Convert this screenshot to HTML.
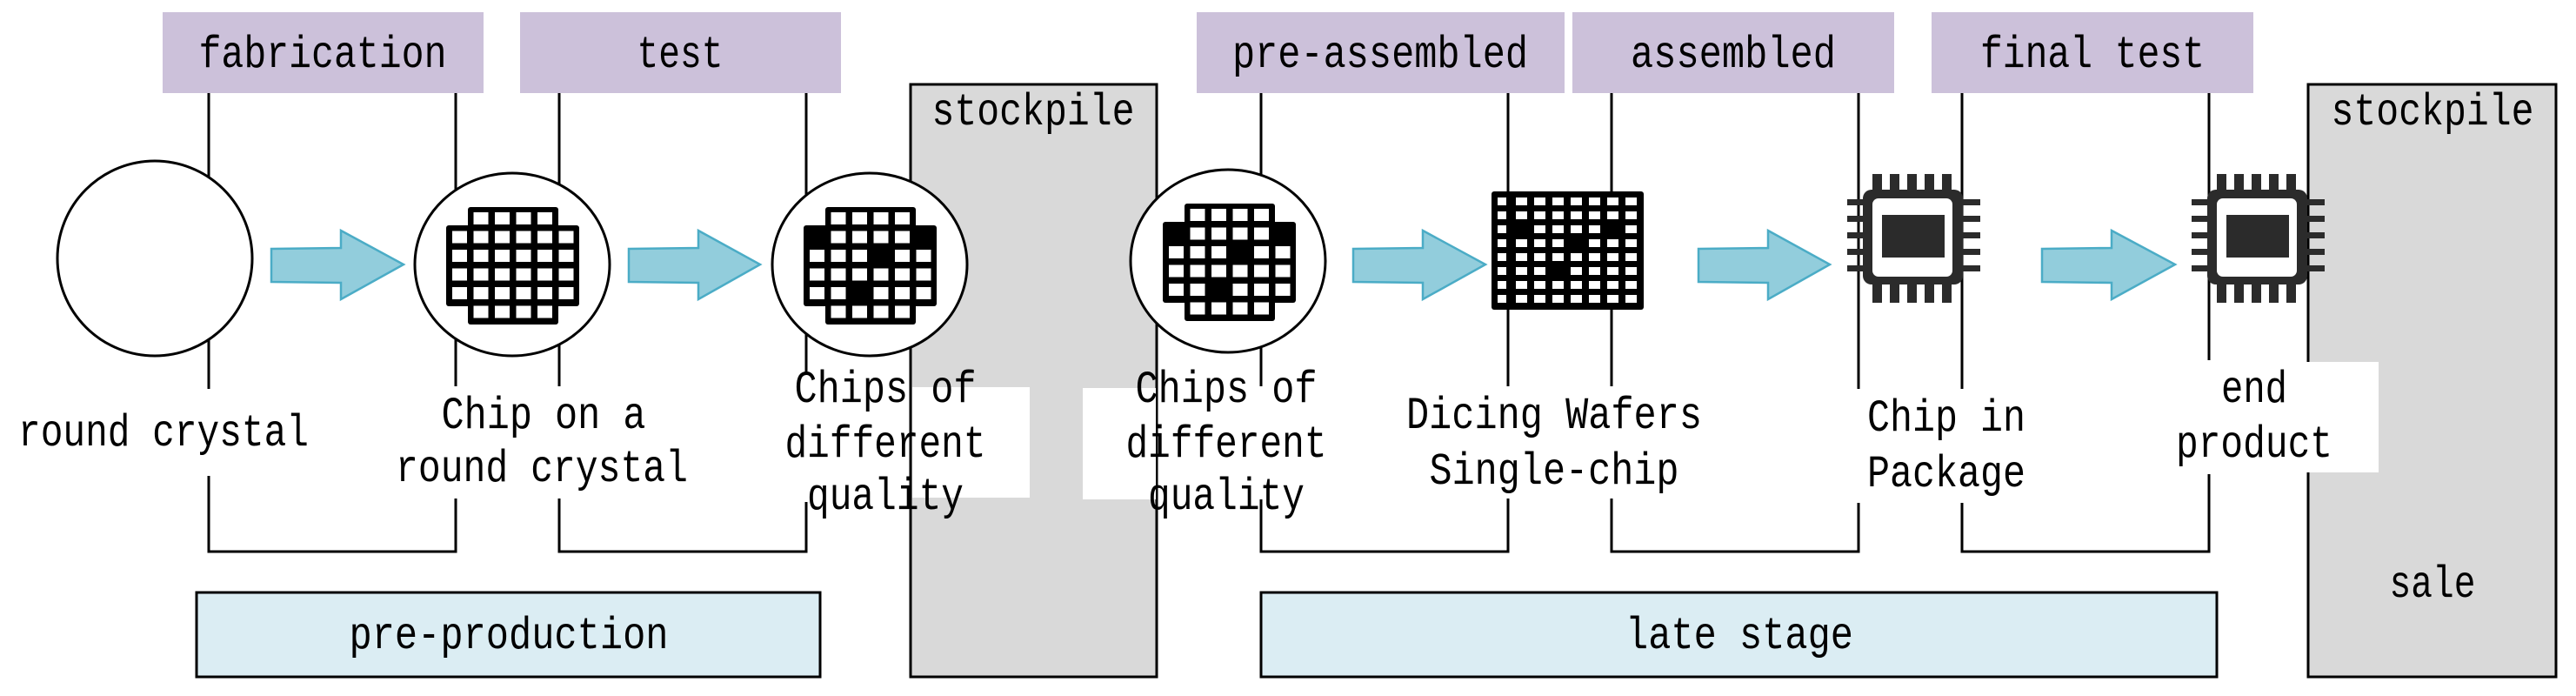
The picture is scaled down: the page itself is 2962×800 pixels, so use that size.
<!DOCTYPE html>
<html><head><meta charset="utf-8">
<style>
html,body{margin:0;padding:0;background:#fff;}
svg{display:block;}
text{font-family:"Liberation Mono","DejaVu Sans Mono",monospace;font-size:52px;fill:#000;}
</style></head>
<body>
<svg id="s" width="2962" height="800" viewBox="0 0 2962 800" xmlns="http://www.w3.org/2000/svg">
<g fill="#ccc1da">
<rect x="187" y="14" width="369" height="93"/>
<rect x="598" y="14" width="369" height="93"/>
<rect x="1376" y="14" width="423" height="93"/>
<rect x="1808" y="14" width="370" height="93"/>
<rect x="2221" y="14" width="370" height="93"/>
</g>
<rect x="1047" y="97" width="283" height="681" fill="#d9d9d9" stroke="#000" stroke-width="3"/>
<rect x="2654" y="97" width="285" height="681" fill="#d9d9d9" stroke="#000" stroke-width="3"/>
<rect x="226" y="681" width="717" height="97" fill="#dbedf3" stroke="#000" stroke-width="3"/>
<rect x="1450" y="681" width="1099" height="97" fill="#dbedf3" stroke="#000" stroke-width="3"/>
<g stroke="#000" stroke-width="3" fill="none">
<line x1="240" y1="107" x2="240" y2="447"/>
<polyline points="240,547 240,634 524,634 524,573"/>
<line x1="524" y1="107" x2="524" y2="444"/>
<line x1="643" y1="107" x2="643" y2="444"/>
<polyline points="643,573 643,634 927,634 927,577"/>
<line x1="927" y1="107" x2="927" y2="428"/>
<line x1="1450" y1="107" x2="1450" y2="444"/>
<polyline points="1450,574 1450,634 1734,634 1734,573"/>
<line x1="1734" y1="107" x2="1734" y2="444"/>
<line x1="1853" y1="107" x2="1853" y2="444"/>
<polyline points="1853,573 1853,634 2137,634 2137,578"/>
<line x1="2137" y1="107" x2="2137" y2="447"/>
<line x1="2256" y1="107" x2="2256" y2="447"/>
<polyline points="2256,578 2256,634 2540,634 2540,545"/>
<line x1="2540" y1="107" x2="2540" y2="414"/>
</g>
<rect x="1049" y="445" width="135" height="127" fill="#fff"/>
<rect x="1245" y="446" width="84" height="128" fill="#fff"/>
<rect x="2491" y="416" width="244" height="127" fill="#fff"/>
<g fill="#fff" stroke="#000" stroke-width="3">
<ellipse cx="178" cy="297" rx="112" ry="112"/>
<ellipse cx="589" cy="304" rx="112" ry="105"/>
<ellipse cx="1000" cy="304" rx="112" ry="105"/>
<ellipse cx="1412" cy="300" rx="112" ry="105"/>
</g>
<g id="icons"></g>
<g fill="#92cddc" stroke="#4bacc6" stroke-width="2.5">
<polygon points="312,286 392,285 392,265 464,304 392,344 392,325 312,324"/>
<polygon points="723,286 803,285 803,265 874,304 803,344 803,325 723,324"/>
<polygon points="1556,286 1636,285 1636,265 1708,304 1636,344 1636,325 1556,324"/>
<polygon points="1953,286 2033,285 2033,265 2104,304 2033,344 2033,325 1953,324"/>
<polygon points="2348,286 2428,285 2428,265 2501,304 2428,344 2428,325 2348,324"/>
</g>
<g text-anchor="middle" lengthAdjust="spacingAndGlyphs">
<text x="371" y="77" textLength="285" lengthAdjust="spacingAndGlyphs">fabrication</text>
<text x="782" y="77" textLength="99" lengthAdjust="spacingAndGlyphs">test</text>
<text x="1587" y="77" textLength="340" lengthAdjust="spacingAndGlyphs">pre-assembled</text>
<text x="1993" y="77" textLength="236" lengthAdjust="spacingAndGlyphs">assembled</text>
<text x="2406" y="77" textLength="258" lengthAdjust="spacingAndGlyphs">final test</text>
<text x="1188" y="143" textLength="233" lengthAdjust="spacingAndGlyphs">stockpile</text>
<text x="2797" y="143" textLength="233" lengthAdjust="spacingAndGlyphs">stockpile</text>
<text x="2797" y="686" textLength="99" lengthAdjust="spacingAndGlyphs">sale</text>
<text x="188" y="512" textLength="334" lengthAdjust="spacingAndGlyphs">round crystal</text>
<text x="625" y="492" textLength="235" lengthAdjust="spacingAndGlyphs">Chip on a</text>
<text x="623" y="553" textLength="336" lengthAdjust="spacingAndGlyphs">round crystal</text>
<text x="1018" y="462" textLength="209" lengthAdjust="spacingAndGlyphs">Chips of</text>
<text x="1018" y="525" textLength="231" lengthAdjust="spacingAndGlyphs">different</text>
<text x="1018" y="585" textLength="180" lengthAdjust="spacingAndGlyphs">quality</text>
<text x="1410" y="462" textLength="209" lengthAdjust="spacingAndGlyphs">Chips of</text>
<text x="1410" y="525" textLength="231" lengthAdjust="spacingAndGlyphs">different</text>
<text x="1410" y="585" textLength="180" lengthAdjust="spacingAndGlyphs">quality</text>
<text x="1787" y="492" textLength="340" lengthAdjust="spacingAndGlyphs">Dicing Wafers</text>
<text x="1787" y="556" textLength="287" lengthAdjust="spacingAndGlyphs">Single-chip</text>
<text x="2238" y="495" textLength="182" lengthAdjust="spacingAndGlyphs">Chip in</text>
<text x="2238" y="559" textLength="182" lengthAdjust="spacingAndGlyphs">Package</text>
<text x="2592" y="462" textLength="76" lengthAdjust="spacingAndGlyphs">end</text>
<text x="2592" y="525" textLength="180" lengthAdjust="spacingAndGlyphs">product</text>
<text x="585" y="745" textLength="367" lengthAdjust="spacingAndGlyphs">pre-production</text>
<text x="2000" y="745" textLength="262" lengthAdjust="spacingAndGlyphs">late stage</text>
</g>
</svg>
<script>
(function(){
var NS="http://www.w3.org/2000/svg",g=document.getElementById("icons");
function r(x,y,w,h,f,rx){var e=document.createElementNS(NS,"rect");e.setAttribute("x",x);e.setAttribute("y",y);e.setAttribute("width",w);e.setAttribute("height",h);e.setAttribute("fill",f);if(rx)e.setAttribute("rx",rx);g.appendChild(e);}
function wafer(x0,y0,blacks){
 r(x0+25,y0,104,135,"#000",3);
 r(x0,y0+21,153,93,"#000",3);
 for(var row=0;row<6;row++)for(var c=0;c<6;c++){
  if((row==0||row==5)&&(c==0||c==5))continue;
  if(blacks.indexOf(row+","+c)>=0)continue;
  r(x0+7+c*24.5,y0+6+row*21.5,17,14,"#fff");
 }
}
wafer(513,238,[]);
wafer(924,238,["1,0","1,5","2,3","4,2"]);
wafer(1337,234,["1,0","1,5","2,3","4,2"]);
r(1715,220,175,136,"#000",3);
var db=["2,1","2,6","3,4","5,3"];
for(var row=0;row<8;row++)for(var c=0;c<8;c++){
 if(db.indexOf(row+","+c)>=0)continue;
 r(1722+c*21,227+row*16,(c==0?10:13),9,"#fff");
}
function chip(dx){
 var c="#2b2b2b";
 for(var i=0;i<5;i++){r(2153+dx+i*20,200,11,22,c);r(2153+dx+i*20,324,11,24,c);}
 for(var j=0;j<5;j++){r(2124+dx,229+j*19,22,7,c);r(2253+dx,229+j*19,24,7,c);}
 r(2142+dx,218,115,109,c,10);
 r(2153+dx,228,92,90,"#fff",7);
 r(2164+dx,247,72,49,c);
}
chip(0);chip(396);
})();
</script>
</body></html>
